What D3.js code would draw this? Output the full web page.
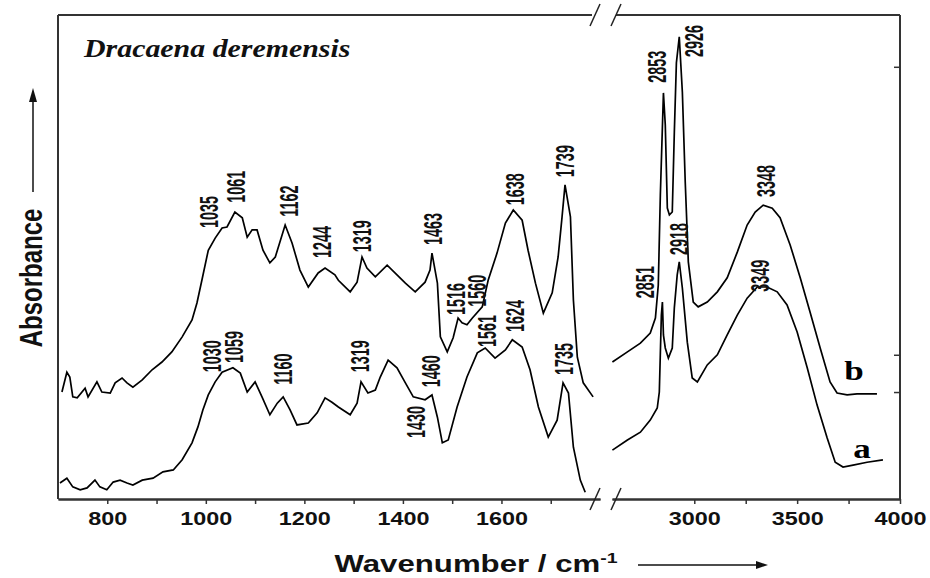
<!doctype html>
<html>

<head>
	<meta charset="UTF-8" />
	<script src="https://d3js.org/d3.v7.min.js"></script>
	<style>
		html, body { margin: 0; padding: 0; background: #fff; }
		svg { display: block; }
		.peak { font-family: "Liberation Sans", Arial, sans-serif; font-weight: bold; font-size: 18px; fill: #111; }
		.tick text { font-family: "Liberation Sans", Arial, sans-serif; font-weight: bold; font-size: 18px; fill: #111; }
	</style>
</head>

<body>
	<svg id="chart" width="930" height="578"></svg>

	<script>
		// FTIR spectra, [wavenumber, absorbance (arb.)], low-range part and high-range part
		const specBLow = [[708,0.221],[718,0.262],[724,0.252],[730,0.211],[739,0.209],[755,0.229],[761,0.211],[779,0.242],[789,0.221],[806,0.219],[816,0.240],[830,0.250],[840,0.240],[852,0.231],[871,0.246],[891,0.267],[911,0.283],[931,0.304],[952,0.335],[972,0.370],[982,0.405],[992,0.452],[1005,0.514],[1019,0.539],[1033,0.560],[1043,0.562],[1059,0.593],[1074,0.581],[1084,0.541],[1094,0.556],[1104,0.556],[1116,0.514],[1130,0.488],[1141,0.500],[1161,0.566],[1175,0.529],[1191,0.473],[1208,0.438],[1228,0.467],[1242,0.477],[1262,0.463],[1269,0.452],[1293,0.428],[1307,0.448],[1317,0.500],[1327,0.477],[1344,0.459],[1368,0.483],[1388,0.463],[1405,0.446],[1425,0.428],[1445,0.448],[1455,0.473],[1459,0.508],[1470,0.446],[1476,0.335],[1490,0.304],[1502,0.333],[1512,0.374],[1520,0.364],[1530,0.360],[1541,0.374],[1561,0.397],[1573,0.452],[1591,0.508],[1608,0.570],[1624,0.597],[1642,0.576],[1654,0.514],[1669,0.446],[1685,0.384],[1703,0.426],[1715,0.500],[1723,0.583],[1729,0.649],[1740,0.583],[1746,0.411],[1754,0.293],[1766,0.240],[1786,0.211]];
		const specBHigh = [[2602,0.283],[2675,0.304],[2738,0.322],[2786,0.343],[2811,0.374],[2825,0.442],[2835,0.628],[2850,0.839],[2859,0.773],[2869,0.601],[2879,0.587],[2893,0.593],[2903,0.758],[2913,0.901],[2927,0.955],[2942,0.841],[2956,0.655],[2971,0.490],[2995,0.407],[3019,0.397],[3063,0.407],[3112,0.428],[3160,0.457],[3209,0.510],[3257,0.566],[3296,0.593],[3335,0.607],[3379,0.601],[3417,0.581],[3466,0.525],[3515,0.457],[3563,0.386],[3612,0.312],[3660,0.242],[3694,0.219],[3743,0.215],[3791,0.217],[3888,0.217]];
		const specALow = [[704,0.033],[718,0.043],[730,0.025],[745,0.019],[759,0.023],[775,0.039],[785,0.025],[799,0.019],[812,0.035],[826,0.039],[840,0.033],[852,0.029],[871,0.039],[893,0.043],[913,0.056],[934,0.060],[952,0.081],[972,0.116],[984,0.149],[994,0.184],[1005,0.215],[1019,0.242],[1033,0.262],[1055,0.271],[1070,0.260],[1084,0.221],[1100,0.242],[1114,0.211],[1130,0.174],[1145,0.198],[1157,0.211],[1171,0.184],[1185,0.153],[1208,0.157],[1226,0.178],[1242,0.209],[1256,0.200],[1269,0.190],[1293,0.174],[1307,0.198],[1315,0.242],[1329,0.219],[1344,0.225],[1354,0.252],[1370,0.287],[1388,0.271],[1405,0.240],[1421,0.211],[1445,0.205],[1459,0.215],[1470,0.169],[1480,0.116],[1492,0.122],[1510,0.190],[1530,0.252],[1551,0.302],[1567,0.312],[1587,0.291],[1608,0.308],[1622,0.329],[1642,0.314],[1658,0.267],[1675,0.190],[1695,0.128],[1713,0.163],[1725,0.240],[1736,0.219],[1746,0.107],[1760,0.039],[1770,0.014]];
		const specAHigh = [[2602,0.101],[2675,0.122],[2738,0.138],[2786,0.163],[2820,0.188],[2830,0.221],[2840,0.380],[2845,0.407],[2850,0.339],[2859,0.312],[2874,0.291],[2893,0.312],[2903,0.395],[2917,0.463],[2927,0.490],[2942,0.436],[2966,0.324],[2990,0.250],[3015,0.242],[3063,0.277],[3112,0.298],[3160,0.339],[3209,0.380],[3257,0.415],[3306,0.438],[3354,0.438],[3403,0.428],[3451,0.401],[3500,0.345],[3549,0.271],[3597,0.194],[3646,0.126],[3685,0.076],[3723,0.066],[3772,0.070],[3840,0.076],[3917,0.081]];

		// peak labels: [text, wavenumber at label, absorbance where label starts]
		const peaksLow = [["1035",1007,0.560],["1061",1061,0.612],["1162",1169,0.583],["1244",1236,0.498],["1319",1317,0.510],["1463",1461,0.525],["1516",1508,0.380],["1560",1551,0.397],["1638",1628,0.607],["1739",1729,0.665],
			["1030",1013,0.262],["1059",1057,0.281],["1160",1157,0.236],["1319",1313,0.262],["1460",1457,0.231],["1430",1427,0.126],["1561",1571,0.314],["1624",1628,0.345],["1735",1727,0.256]];
		const peaksHigh = [["2853",2820,0.860],["2926",3000,0.913],["3348",3349,0.624],["2851",2762,0.415],["2918",2927,0.504],["3349",3320,0.428]];

		// curve names: [text, wavenumber, absorbance]
		const curveNames = [["b",3777,0.246],["a",3815,0.085]];

		const lowTicks = [800, 1000, 1200, 1400, 1600];
		const lowMinor = [900, 1100, 1300, 1500, 1700];
		const highTicks = [3000, 3500, 4000];
		const highMinor = [3250, 3750];
		const rightTicks = [0.221, 0.298, 0.893];

		(function () {
			"use strict";

			const svg = d3.select("#chart");
			const left = 58, right = 900, top = 15, bottom = 499;
			const breakL = 600, breakR = 612;

			const xLow = d3.scaleLinear().domain([700, 1800]).range([left, breakL]);
			const xHigh = d3.scaleLinear().domain([2600, 4000]).range([breakR, right]);
			const y = d3.scaleLinear().domain([0, 1]).range([bottom, top]);

			const frame = "#333";

			// frame: left, right, top (with gap for the break)
			svg.append("line").attr("x1", left).attr("x2", left).attr("y1", top).attr("y2", bottom)
				.attr("stroke", frame).attr("stroke-width", 2);
			svg.append("line").attr("x1", right).attr("x2", right).attr("y1", top).attr("y2", bottom)
				.attr("stroke", frame).attr("stroke-width", 2);
			svg.append("line").attr("x1", left).attr("x2", breakL - 8).attr("y1", top).attr("y2", top)
				.attr("stroke", frame).attr("stroke-width", 2);
			svg.append("line").attr("x1", breakR + 4).attr("x2", right).attr("y1", top).attr("y2", top)
				.attr("stroke", frame).attr("stroke-width", 2);

			// bottom axes
			function styleAxis(g) {
				g.select(".domain").attr("stroke", frame).attr("stroke-width", 2);
				g.selectAll(".tick line").attr("stroke", frame).attr("stroke-width", 1.5);
				g.selectAll(".tick text").attr("transform", "scale(1.3,1)");
			}
			svg.append("g").attr("transform", "translate(0," + bottom + ")")
				.call(d3.axisBottom(xLow).tickValues(lowTicks).tickSize(5).tickSizeOuter(0).tickPadding(8).tickFormat(d3.format("d")))
				.call(styleAxis);
			svg.append("g").attr("transform", "translate(0," + bottom + ")")
				.call(d3.axisBottom(xLow).tickValues(lowMinor).tickSize(5).tickSizeOuter(0).tickFormat(""))
				.call(styleAxis);
			svg.append("g").attr("transform", "translate(0," + bottom + ")")
				.call(d3.axisBottom(xHigh).tickValues(highTicks).tickSize(5).tickSizeOuter(0).tickPadding(8).tickFormat(d3.format("d")))
				.call(styleAxis);
			svg.append("g").attr("transform", "translate(0," + bottom + ")")
				.call(d3.axisBottom(xHigh).tickValues(highMinor).tickSize(5).tickSizeOuter(0).tickFormat(""))
				.call(styleAxis);

			// small inward ticks on the right frame
			svg.append("g").attr("transform", "translate(" + right + ",0)")
				.call(d3.axisRight(y).tickValues(rightTicks).tickSize(-6).tickFormat(""))
				.call(g => g.select(".domain").remove())
				.call(g => g.selectAll(".tick line").attr("stroke", frame).attr("stroke-width", 1.5));

			// axis break marks "//" on top and bottom
			[[top, -1], [bottom, 1]].forEach(function (p) {
				[breakL - 5, breakR + 4].forEach(function (cx) {
					svg.append("line")
						.attr("x1", cx - 5).attr("y1", p[0] + 11)
						.attr("x2", cx + 5).attr("y2", p[0] - 11)
						.attr("stroke", "#222").attr("stroke-width", 1.5);
				});
			});

			// spectra
			const lineLow = d3.line().x(d => xLow(d[0])).y(d => y(d[1]));
			const lineHigh = d3.line().x(d => xHigh(d[0])).y(d => y(d[1]));
			[[specBLow, lineLow], [specALow, lineLow], [specBHigh, lineHigh], [specAHigh, lineHigh]].forEach(function (s) {
				svg.append("path")
					.attr("d", s[1](s[0]))
					.attr("fill", "none")
					.attr("stroke", "#000")
					.attr("stroke-width", 1.7)
					.attr("stroke-linejoin", "miter");
			});

			// peak labels, written upward
			function addPeaks(data, x) {
				svg.append("g").selectAll("text")
					.data(data)
					.enter().append("text")
					.attr("class", "peak")
					.attr("transform", d => "translate(" + x(d[1]) + "," + y(d[2]) + ") rotate(-90) scale(0.8,1.4)")
					.attr("dy", "0.35em")
					.text(d => d[0]);
			}
			addPeaks(peaksLow, xLow);
			addPeaks(peaksHigh, xHigh);

			// curve names
			svg.append("g").selectAll("text")
				.data(curveNames)
				.enter().append("text")
				.attr("transform", d => "translate(" + xHigh(d[1]) + "," + y(d[2]) + ") scale(1.3,1)")
				.attr("text-anchor", "middle")
				.style("font-family", "'Liberation Serif', 'Times New Roman', serif")
				.style("font-weight", "bold")
				.style("font-size", "27px")
				.text(d => d[0]);

			// title
			svg.append("text")
				.attr("transform", "translate(84,57) scale(1.15,1)")
				.style("font-family", "'Liberation Serif', 'Times New Roman', serif")
				.style("font-weight", "bold")
				.style("font-style", "italic")
				.style("font-size", "26px")
				.attr("fill", "#111")
				.text("Dracaena deremensis");

			// x title with arrow
			const xt = svg.append("text")
				.attr("transform", "translate(476,572) scale(1.3,1)")
				.attr("text-anchor", "middle")
				.style("font-family", "'Liberation Sans', Arial, sans-serif")
				.style("font-weight", "bold")
				.style("font-size", "24px")
				.attr("fill", "#111");
			xt.append("tspan").text("Wavenumber / cm");
			xt.append("tspan").attr("dy", "-9").style("font-size", "15px").text("-1");
			svg.append("line").attr("x1", 638).attr("x2", 760).attr("y1", 565).attr("y2", 565)
				.attr("stroke", "#111").attr("stroke-width", 1.5);
			svg.append("path").attr("d", "M768,565 L756,561 L756,569 Z").attr("fill", "#111");

			// y title with arrow
			svg.append("text")
				.attr("transform", "translate(31,278) rotate(-90) scale(1,1.3)")
				.attr("text-anchor", "middle")
				.attr("dy", "0.35em")
				.style("font-family", "'Liberation Sans', Arial, sans-serif")
				.style("font-weight", "bold")
				.style("font-size", "24px")
				.attr("fill", "#111")
				.text("Absorbance");
			svg.append("line").attr("x1", 33).attr("x2", 33).attr("y1", 192).attr("y2", 100)
				.attr("stroke", "#111").attr("stroke-width", 1.5);
			svg.append("path").attr("d", "M33,88 L29,102 L37,102 Z").attr("fill", "#111");

		})();
	</script>
</body>

</html>
